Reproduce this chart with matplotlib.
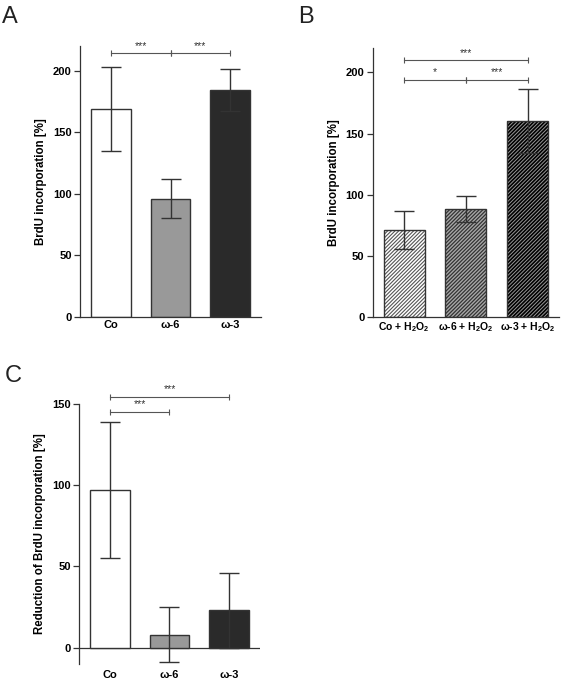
import matplotlib.pyplot as plt

plt.rcParams["font.family"] = ["Liberation Sans", "DejaVu Sans"]
plt.rcParams["mathtext.fontset"] = "custom"
plt.rcParams["mathtext.rm"] = "Liberation Sans:bold"
plt.rcParams["mathtext.it"] = "Liberation Sans:bold"
plt.rcParams["mathtext.bf"] = "Liberation Sans:bold"
plt.rcParams["hatch.linewidth"] = 1.0

# Panel A data
a_labels = ["Co", "ω-6", "ω-3"]
a_means = [169, 96, 184]
a_err = [34, 16, 17]

# Panel B data
b_labels = ["Co + H$_2$O$_2$", "ω-6 + H$_2$O$_2$", "ω-3 + H$_2$O$_2$"]
b_means = [71, 88, 160]
b_err = [15.5, 10.5, 26]

# Panel C data
c_labels = ["Co", "ω-6", "ω-3"]
c_means = [97, 8, 23]
c_err = [42, 17, 23]

# significance brackets: (left bar, right bar, height, stars)
a_sig = [(0, 1, 214, "***"), (1, 2, 214, "***")]
b_sig = [(0, 2, 210, "***"), (0, 1, 194, "*"), (1, 2, 194, "***")]
c_sig = [(0, 2, 154, "***"), (0, 1, 145, "***")]

solid_colors = ["white", "#999999", "#2a2a2a"]
hatch_faces = ["white", "#a8a8a8", "#9a9a9a"]
hatch_lines = ["#555555", "#333333", "#000000"]
hatch_widths = [0.8, 0.9, 1.2]
edge = "#333333"

fig = plt.figure(figsize=(5.63, 6.83), dpi=100)


def style_axes(ax, ymin, ymax, ticks):
    ax.set_ylim(ymin, ymax)
    ax.set_xlim(-0.51, 2.51)
    ax.set_yticks(ticks)
    for s in ["top", "right"]:
        ax.spines[s].set_visible(False)
    for s in ["left", "bottom"]:
        ax.spines[s].set_color(edge)
        ax.spines[s].set_linewidth(0.9)
    ax.tick_params(axis="y", length=4, width=0.9, color=edge, pad=2,
                   labelsize=8)
    ax.tick_params(axis="x", length=0, pad=2, labelsize=8)
    for lab in ax.get_yticklabels() + ax.get_xticklabels():
        lab.set_fontweight("bold")


def brackets(ax, sig):
    for i, j, y, txt in sig:
        ax.plot([i, j], [y, y], color="#555555", lw=0.8, marker="|",
                markersize=4, markeredgewidth=0.8, clip_on=False)
        ax.text((i + j) / 2, y + 2, txt, ha="center", va="bottom",
                fontsize=7.5, color="#333333", clip_on=False)


# A
axA = fig.add_axes([0.1421, 0.5359, 0.3215, 0.3968])
x = range(3)
axA.bar(x, a_means, width=0.667, color=solid_colors, edgecolor=edge,
        linewidth=1.0, zorder=2)
axA.errorbar(x, a_means, yerr=a_err, fmt="none", ecolor=edge,
             elinewidth=1.0, capsize=7, capthick=1.0, zorder=3)
style_axes(axA, 0, 220, [0, 50, 100, 150, 200])
axA.set_xticks(list(x))
axA.set_xticklabels(a_labels, fontweight="bold")
axA.set_ylabel("BrdU incorporation [%]", fontsize=8.3, fontweight="bold",
               labelpad=4)
brackets(axA, a_sig)

# B
axB = fig.add_axes([0.662, 0.5359, 0.331, 0.394])
for k in range(3):
    with plt.rc_context({"hatch.linewidth": hatch_widths[k]}):
        axB.bar(k, b_means[k], width=0.667, color=hatch_faces[k],
                edgecolor=hatch_lines[k], hatch="/////////", linewidth=0,
                zorder=2)
    axB.bar(k, b_means[k], width=0.667, fill=False, edgecolor=edge,
            linewidth=1.0, zorder=2)
axB.errorbar(x, b_means, yerr=b_err, fmt="none", ecolor=edge,
             elinewidth=1.0, capsize=7, capthick=1.0, zorder=3)
style_axes(axB, 0, 220, [0, 50, 100, 150, 200])
axB.set_xticks(list(x))
axB.set_xticklabels(b_labels, fontweight="bold", fontsize=7.5)
axB.set_ylabel("BrdU incorporation [%]", fontsize=8.3, fontweight="bold",
               labelpad=4)
brackets(axB, b_sig)

# C
axC = fig.add_axes([0.1403, 0.0278, 0.3215, 0.3811])
axC.bar(x, c_means, width=0.667, color=solid_colors, edgecolor=edge,
        linewidth=1.0, zorder=2)
axC.errorbar(x, c_means, yerr=c_err, fmt="none", ecolor=edge,
             elinewidth=1.0, capsize=7, capthick=1.0, zorder=3)
style_axes(axC, -10, 150, [0, 50, 100, 150])
axC.spines["bottom"].set_visible(False)
axC.axhline(0, color=edge, lw=0.9, zorder=1)
axC.set_xticks(list(x))
axC.set_xticklabels(c_labels, fontweight="bold")
axC.tick_params(axis="x", pad=4)
axC.set_ylabel("Reduction of BrdU incorporation [%]", fontsize=8.3,
               fontweight="bold", labelpad=4)
brackets(axC, c_sig)

# panel letters
fig.text(0.004, 0.967, "A", fontsize=17, va="baseline", color="#222222")
fig.text(0.530, 0.967, "B", fontsize=17, va="baseline", color="#222222")
fig.text(0.008, 0.441, "C", fontsize=17, va="baseline", color="#222222")

fig.savefig("out.png", dpi=100)
